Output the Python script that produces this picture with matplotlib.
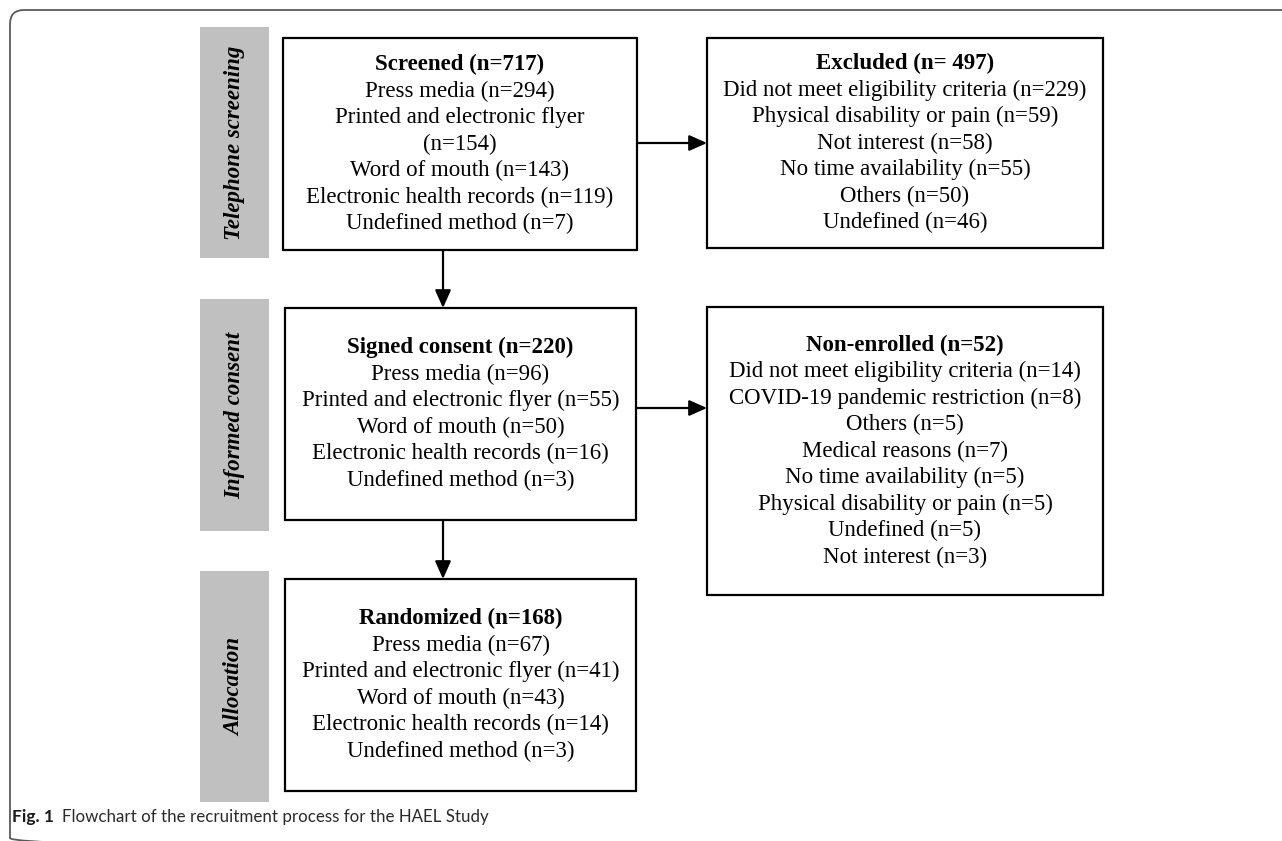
import matplotlib

matplotlib.use("Agg")
import matplotlib.pyplot as plt
from matplotlib.patches import FancyBboxPatch, Rectangle

# stage labels (grey side bars)
stages = ["Telephone screening", "Informed consent", "Allocation"]

# box contents: title + lines
screened_title = "Screened (n=717)"
screened_lines = ["Press media (n=294)", "Printed and electronic flyer", "(n=154)",
                  "Word of mouth (n=143)", "Electronic health records (n=119)",
                  "Undefined method (n=7)"]
excluded_title = "Excluded (n= 497)"
excluded_lines = ["Did not meet eligibility criteria (n=229)", "Physical disability or pain (n=59)",
                  "Not interest (n=58)", "No time availability (n=55)", "Others (n=50)",
                  "Undefined (n=46)"]
consent_title = "Signed consent (n=220)"
consent_lines = ["Press media (n=96)", "Printed and electronic flyer (n=55)",
                 "Word of mouth (n=50)", "Electronic health records (n=16)",
                 "Undefined method (n=3)"]
nonenrolled_title = "Non-enrolled (n=52)"
nonenrolled_lines = ["Did not meet eligibility criteria (n=14)", "COVID-19 pandemic restriction (n=8)",
                     "Others (n=5)", "Medical reasons (n=7)", "No time availability (n=5)",
                     "Physical disability or pain (n=5)", "Undefined (n=5)", "Not interest (n=3)"]
random_title = "Randomized (n=168)"
random_lines = ["Press media (n=67)", "Printed and electronic flyer (n=41)",
                "Word of mouth (n=43)", "Electronic health records (n=14)",
                "Undefined method (n=3)"]

caption_bold = "Fig. 1"
caption_text = "Flowchart of the recruitment process for the HAEL Study"

W, H = 1282, 841
fig = plt.figure(figsize=(W / 100, H / 100), dpi=100)
ax = fig.add_axes([0, 0, 1, 1])
ax.set_xlim(0, W)
ax.set_ylim(H, 0)
ax.axis("off")

SERIF = "Liberation Serif"
FS = 16.5
LINE = 26.5

# outer frame (rounded, runs off right/bottom)
ax.add_patch(FancyBboxPatch((10, 10), 1400, 842, boxstyle="round,pad=0,rounding_size=14",
                            fill=False, ec="#5a5a5a", lw=1.3))

# grey stage bars
bars = [(27, 258), (299, 531), (571, 802)]
for (y0, y1), label in zip(bars, stages):
    ax.add_patch(Rectangle((200, y0), 69, y1 - y0, fc="#c0c0c0", ec="none"))
    ax.text(234.5, (y0 + y1) / 2, label, rotation=90, ha="center", va="center",
            family=SERIF, fontsize=FS, fontweight="bold", fontstyle="italic")


def box(x0, y0, x1, y1, title, lines):
    ax.add_patch(Rectangle((x0, y0), x1 - x0, y1 - y0, fill=False, ec="black", lw=1.6))
    rows = [title] + lines
    cx = (x0 + x1) / 2
    cy = (y0 + y1) / 2
    top = cy - (len(rows) - 1) * LINE / 2
    for i, t in enumerate(rows):
        ax.text(cx, top + i * LINE, t, ha="center", va="center", family=SERIF,
                fontsize=FS, fontweight="bold" if i == 0 else "normal")


box(283, 38, 637, 250, screened_title, screened_lines)
box(707, 38, 1103, 248, excluded_title, excluded_lines)
box(285, 308, 636, 520, consent_title, consent_lines)
box(707, 307, 1103, 595, nonenrolled_title, nonenrolled_lines)
box(285, 579, 636, 791, random_title, random_lines)


def arrow(x0, y0, x1, y1):
    ax.annotate("", xy=(x1, y1), xytext=(x0, y0),
                arrowprops=dict(arrowstyle="-|>,head_length=0.9,head_width=0.4", color="black",
                                lw=1.6, shrinkA=0, shrinkB=0, mutation_scale=12))


arrow(443, 250, 443, 308)
arrow(443, 520, 443, 579)
arrow(637, 143, 707, 143)
arrow(636, 408, 707, 408)

# caption
ax.text(12, 817, caption_bold, ha="left", va="center", family="Lato", fontweight="bold",
        fontsize=12.5, color="#1a1a1a")
ax.text(62, 817, caption_text, ha="left", va="center", family="Lato", fontweight="normal",
        fontsize=12.2, color="#2a2a2a")

fig.savefig("out.png", dpi=100)
